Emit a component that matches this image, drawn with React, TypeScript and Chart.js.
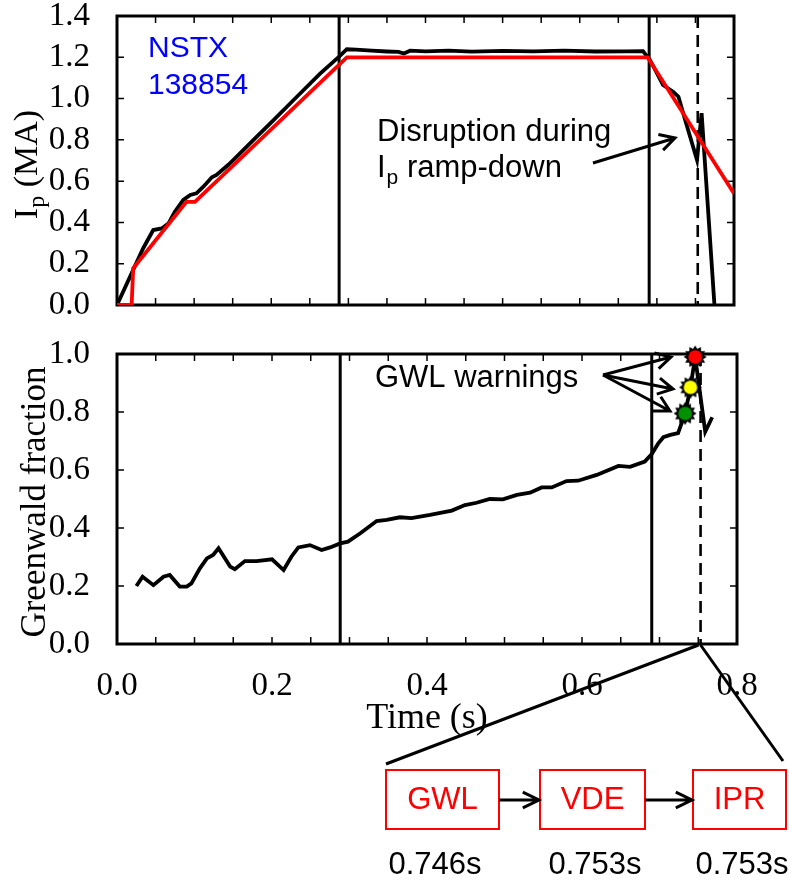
import React, { useEffect, useRef } from 'react';
import { Chart, registerables } from 'chart.js';

Chart.register(...registerables);

// ---------- data ----------
const IP_TIME = [0.0, 0.021, 0.034, 0.047, 0.058, 0.067, 0.075, 0.086, 0.095, 0.103, 0.112, 0.123, 0.129, 0.144, 0.151, 0.177, 0.203, 0.229, 0.263, 0.288, 0.298, 0.31, 0.33, 0.35, 0.365, 0.372, 0.38, 0.4, 0.43, 0.46, 0.5, 0.54, 0.58, 0.62, 0.66, 0.682, 0.691, 0.7, 0.708, 0.721, 0.728, 0.736, 0.752, 0.758, 0.775];
const IP_MEAS = [0.0, 0.17, 0.275, 0.363, 0.371, 0.396, 0.452, 0.509, 0.533, 0.541, 0.573, 0.619, 0.63, 0.678, 0.703, 0.8, 0.896, 0.993, 1.12, 1.203, 1.239, 1.237, 1.232, 1.228, 1.226, 1.218, 1.232, 1.229, 1.232, 1.227, 1.231, 1.229, 1.232, 1.228, 1.229, 1.23, 1.187, 1.123, 1.066, 1.033, 1.009, 0.905, 0.703, 0.929, -0.02];

const IP_REF_TIME = [0.0, 0.019, 0.021, 0.09, 0.101, 0.298, 0.688, 0.8];
const IP_REF = [0.0, 0.0, 0.178, 0.5, 0.5, 1.2, 1.2, 0.54];

const GW_TIME = [0.025, 0.033, 0.047, 0.06, 0.068, 0.081, 0.09, 0.096, 0.107, 0.116, 0.124, 0.131, 0.146, 0.152, 0.165, 0.18, 0.2, 0.215, 0.225, 0.234, 0.249, 0.264, 0.275, 0.288, 0.298, 0.314, 0.335, 0.348, 0.365, 0.38, 0.404, 0.432, 0.449, 0.464, 0.481, 0.498, 0.516, 0.533, 0.548, 0.561, 0.58, 0.595, 0.619, 0.647, 0.662, 0.681, 0.69, 0.698, 0.705, 0.714, 0.724, 0.733, 0.74, 0.746, 0.759, 0.768];
const GW_FRAC = [0.2, 0.232, 0.203, 0.232, 0.238, 0.198, 0.198, 0.209, 0.261, 0.295, 0.307, 0.33, 0.267, 0.258, 0.286, 0.286, 0.292, 0.255, 0.301, 0.333, 0.341, 0.324, 0.333, 0.347, 0.353, 0.382, 0.424, 0.428, 0.437, 0.434, 0.445, 0.46, 0.479, 0.487, 0.5, 0.499, 0.514, 0.522, 0.54, 0.54, 0.562, 0.563, 0.583, 0.614, 0.611, 0.629, 0.655, 0.69, 0.713, 0.721, 0.727, 0.795, 0.885, 0.99, 0.732, 0.782];

const WARN_TIME = [0.733, 0.74, 0.746];
const WARN_FRAC = [0.795, 0.885, 0.99];
const WARN_COLORS = ['#009000', '#ffff00', '#ff0000'];

const PHASE_LINES = [0.288, 0.69];
const DISRUPTION_TIME = 0.753;

const X_MIN = 0, X_MAX = 0.8, X_STEP = 0.05, X_LABEL_STEP = 0.2;
const IP_MAX = 1.4, GW_MAX = 1.0, Y_STEP = 0.2;

const SHOT_LABEL = ['NSTX', '138854'];
const ALARMS = ['GWL', 'VDE', 'IPR'];
const ALARM_TIMES = ['0.746s', '0.753s', '0.753s'];

// ---------- helpers ----------
const SERIF = 'Liberation Serif, "Times New Roman", serif';
const SANS = 'Liberation Sans, Arial, sans-serif';

function pts(xs: number[], ys: number[]) {
  return xs.map((x, i) => ({ x, y: ys[i] }));
}

function arrow(ctx: CanvasRenderingContext2D, x1: number, y1: number, x2: number, y2: number, head = 16, ang = 0.5) {
  const a = Math.atan2(y2 - y1, x2 - x1);
  ctx.beginPath();
  ctx.moveTo(x1, y1);
  ctx.lineTo(x2, y2);
  ctx.moveTo(x2 - head * Math.cos(a - ang), y2 - head * Math.sin(a - ang));
  ctx.lineTo(x2, y2);
  ctx.lineTo(x2 - head * Math.cos(a + ang), y2 - head * Math.sin(a + ang));
  ctx.stroke();
}

function makeBurst(color: string) {
  const c = document.createElement('canvas');
  const s = 26;
  c.width = s;
  c.height = s;
  const g = c.getContext('2d')!;
  const cx = s / 2;
  const n = 12;
  g.beginPath();
  for (let i = 0; i < 2 * n; i++) {
    const r = i % 2 === 0 ? 11.5 : 8.3;
    const ang = (i * Math.PI) / n - Math.PI / 2;
    g.lineTo(cx + r * Math.cos(ang), cx + r * Math.sin(ang));
  }
  g.closePath();
  g.fillStyle = '#000';
  g.fill();
  g.beginPath();
  g.arc(cx, cx, 6.8, 0, Math.PI * 2);
  g.fillStyle = color;
  g.fill();
  return c;
}

type Part = { t: string; size: number; dy: number };
function drawRotatedTitle(ctx: CanvasRenderingContext2D, parts: Part[], baseX: number, centerY: number) {
  ctx.save();
  let total = 0;
  const widths = parts.map((p) => {
    ctx.font = `${p.size}px ${SERIF}`;
    const w = ctx.measureText(p.t).width;
    total += w;
    return w;
  });
  ctx.translate(baseX, centerY);
  ctx.rotate(-Math.PI / 2);
  ctx.fillStyle = '#000';
  ctx.textBaseline = 'alphabetic';
  ctx.textAlign = 'left';
  let u = -total / 2;
  parts.forEach((p, i) => {
    ctx.font = `${p.size}px ${SERIF}`;
    ctx.fillText(p.t, u, p.dy);
    u += widths[i];
  });
  ctx.restore();
}

function frameTicksLines(chart: any) {
  const { ctx, chartArea: a, scales } = chart;
  const x = scales.x, y = scales.y;
  ctx.save();
  ctx.strokeStyle = '#000';
  ctx.lineWidth = 1.5;
  const L = 7;
  ctx.beginPath();
  x.ticks.forEach((t: any) => {
    const px = x.getPixelForValue(t.value);
    ctx.moveTo(px, a.top);
    ctx.lineTo(px, a.top + L);
    ctx.moveTo(px, a.bottom);
    ctx.lineTo(px, a.bottom - L);
  });
  y.ticks.forEach((t: any) => {
    const py = y.getPixelForValue(t.value);
    ctx.moveTo(a.left, py);
    ctx.lineTo(a.left + L, py);
    ctx.moveTo(a.right, py);
    ctx.lineTo(a.right - L, py);
  });
  ctx.stroke();
  // phase lines
  ctx.lineWidth = 3;
  ctx.beginPath();
  PHASE_LINES.forEach((t) => {
    const px = x.getPixelForValue(t);
    ctx.moveTo(px, a.top);
    ctx.lineTo(px, a.bottom);
  });
  ctx.stroke();
  // disruption dashed line
  ctx.setLineDash([12, 7]);
  ctx.lineWidth = 2.6;
  ctx.beginPath();
  const pd = x.getPixelForValue(DISRUPTION_TIME);
  ctx.moveTo(pd, a.top);
  ctx.lineTo(pd, a.bottom);
  ctx.stroke();
  ctx.setLineDash([]);
  // frame
  ctx.lineWidth = 3;
  ctx.strokeRect(a.left, a.top, a.right - a.left, a.bottom - a.top);
  ctx.restore();
}

const xTickLabel = (v: any) => {
  const r = Number(v) / X_LABEL_STEP;
  return Math.abs(r - Math.round(r)) < 1e-6 ? Number(v).toFixed(1) : '';
};

const topPlugin = {
  id: 'topDecor',
  beforeDatasetsDraw(chart: any) {
    frameTicksLines(chart);
  },
  afterDraw(chart: any) {
    const { ctx, chartArea: a } = chart;
    ctx.save();
    drawRotatedTitle(ctx, [
      { t: 'I', size: 34, dy: 0 },
      { t: 'p', size: 24, dy: 7 },
      { t: ' (MA)', size: 34, dy: 0 },
    ], 37, (a.top + a.bottom) / 2 + 4);
    // shot label
    ctx.fillStyle = '#0000ff';
    ctx.font = `30px ${SANS}`;
    ctx.textAlign = 'left';
    ctx.textBaseline = 'alphabetic';
    ctx.fillText(SHOT_LABEL[0], a.left + 31, 57);
    ctx.fillText(SHOT_LABEL[1], a.left + 31, 94);
    // disruption note
    ctx.fillStyle = '#000';
    ctx.font = `31px ${SANS}`;
    ctx.fillText('Disruption during', 377, 141);
    ctx.fillText('I', 377, 177);
    const w = ctx.measureText('I').width;
    ctx.font = `21px ${SANS}`;
    ctx.fillText('p', 377 + w + 1, 184);
    const wp = ctx.measureText('p').width;
    ctx.font = `31px ${SANS}`;
    ctx.fillText(' ramp-down', 377 + w + 1 + wp, 177);
    ctx.strokeStyle = '#000';
    ctx.lineWidth = 3;
    arrow(ctx, 593, 163, 675, 138, 17, 0.5);
    ctx.restore();
  },
};

const bottomPlugin = {
  id: 'bottomDecor',
  beforeDatasetsDraw(chart: any) {
    frameTicksLines(chart);
  },
  afterDraw(chart: any) {
    const { ctx, chartArea: a, scales } = chart;
    const OFF = 330;
    ctx.save();
    drawRotatedTitle(ctx, [{ t: 'Greenwald fraction', size: 35, dy: 0 }], 45, (a.top + a.bottom) / 2 + 3);
    ctx.translate(0, -OFF);
    ctx.strokeStyle = '#000';
    ctx.fillStyle = '#000';
    ctx.lineWidth = 3;
    // GWL warnings note
    ctx.font = `31px ${SANS}`;
    ctx.textAlign = 'left';
    ctx.textBaseline = 'alphabetic';
    ctx.fillText('GWL warnings', 375, 387);
    arrow(ctx, 603, 375, 671, 357, 17, 0.5);
    arrow(ctx, 603, 375, 673, 389, 17, 0.5);
    arrow(ctx, 603, 375, 670, 411, 17, 0.5);
    // zoom lines from disruption time to alarm boxes
    const xd = scales.x.getPixelForValue(DISRUPTION_TIME);
    const yb = a.bottom + OFF;
    ctx.beginPath();
    ctx.moveTo(xd - 2, yb + 1);
    ctx.lineTo(386, 764);
    ctx.moveTo(xd, yb + 1);
    ctx.lineTo(783, 761);
    ctx.stroke();
    // boxes
    const boxes = [
      [386, 770, 113, 59],
      [540, 770, 105, 59],
      [693, 770, 93, 59],
    ];
    ctx.lineWidth = 2;
    ctx.strokeStyle = '#ff0000';
    ctx.fillStyle = '#ff0000';
    ctx.font = `31px ${SANS}`;
    ctx.textAlign = 'center';
    ctx.textBaseline = 'middle';
    boxes.forEach((b, i) => {
      ctx.strokeRect(b[0], b[1], b[2], b[3]);
      ctx.fillText(ALARMS[i], b[0] + b[2] / 2, b[1] + b[3] / 2 + 1);
    });
    ctx.strokeStyle = '#000';
    ctx.lineWidth = 3;
    arrow(ctx, 499, 800, 539, 800, 18, 0.45);
    arrow(ctx, 645, 800, 692, 800, 18, 0.45);
    ctx.fillStyle = '#000';
    const centers = [435, 595, 742];
    centers.forEach((cx, i) => ctx.fillText(ALARM_TIMES[i], cx, 865));
    ctx.restore();
  },
};

export default function App() {
  const topRef = useRef<HTMLCanvasElement>(null);
  const botRef = useRef<HTMLCanvasElement>(null);

  useEffect(() => {
    const bursts = WARN_COLORS.map(makeBurst);
    const tickFont = { family: SERIF, size: 33 };

    const top = new Chart(topRef.current!, {
      type: 'line',
      data: {
        datasets: [
          { data: pts(IP_REF_TIME, IP_REF), borderColor: '#ff0000', borderWidth: 3.8, pointRadius: 0, tension: 0 },
          { data: pts(IP_TIME, IP_MEAS), borderColor: '#000000', borderWidth: 3.8, pointRadius: 0, tension: 0 },
        ],
      },
      options: {
        animation: false,
        responsive: false,
        events: [],
        layout: { padding: { left: 0, top: 16, right: 55, bottom: 25 } },
        plugins: { legend: { display: false }, tooltip: { enabled: false } },
        scales: {
          x: {
            type: 'linear', min: X_MIN, max: X_MAX,
            ticks: { display: false, stepSize: X_STEP, autoSkip: false },
            grid: { display: false }, border: { display: false },
            afterFit: (s: any) => { s.height = 0; s.paddingLeft = 0; s.paddingRight = 0; },
          },
          y: {
            type: 'linear', min: 0, max: IP_MAX,
            ticks: { stepSize: Y_STEP, autoSkip: false, padding: 19, color: '#000', font: tickFont, callback: (v: any) => Number(v).toFixed(1) },
            grid: { display: false }, border: { display: false },
            afterFit: (s: any) => { s.width = 117; s.paddingTop = 0; s.paddingBottom = 0; },
          },
        },
      } as any,
      plugins: [topPlugin],
    });

    const bottom = new Chart(botRef.current!, {
      type: 'line',
      data: {
        datasets: [
          {
            data: pts(WARN_TIME, WARN_FRAC), showLine: false, pointRadius: 11,
            pointStyle: (c: any) => bursts[c.dataIndex] as any, clip: false,
          } as any,
          { data: pts(GW_TIME, GW_FRAC), borderColor: '#000000', borderWidth: 3.8, pointRadius: 0, tension: 0 },
        ],
      },
      options: {
        animation: false,
        responsive: false,
        events: [],
        layout: { padding: { left: 0, top: 24, right: 52, bottom: 143 } },
        plugins: { legend: { display: false }, tooltip: { enabled: false } },
        scales: {
          x: {
            type: 'linear', min: X_MIN, max: X_MAX,
            ticks: { stepSize: X_STEP, autoSkip: false, maxRotation: 0, padding: 15, color: '#000', font: tickFont, callback: xTickLabel },
            grid: { display: false }, border: { display: false },
            title: { display: true, text: 'Time (s)', color: '#000', font: { family: SERIF, size: 36 }, padding: { top: 0, bottom: 4 } },
            afterFit: (s: any) => { s.height = 100; s.paddingLeft = 0; s.paddingRight = 0; },
          },
          y: {
            type: 'linear', min: 0, max: GW_MAX,
            ticks: { stepSize: Y_STEP, autoSkip: false, padding: 19, color: '#000', font: tickFont, callback: (v: any) => Number(v).toFixed(1) },
            grid: { display: false }, border: { display: false },
            afterFit: (s: any) => { s.width = 117; s.paddingTop = 0; s.paddingBottom = 0; },
          },
        },
      } as any,
      plugins: [bottomPlugin],
    });

    return () => {
      top.destroy();
      bottom.destroy();
    };
  }, []);

  return (
    <div style={{ position: 'absolute', left: 0, top: 0, width: 789, height: 887, background: '#fff' }}>
      <canvas ref={topRef} width={789} height={330} style={{ position: 'absolute', left: 0, top: 0, width: 789, height: 330 }} />
      <canvas ref={botRef} width={789} height={557} style={{ position: 'absolute', left: 0, top: 330, width: 789, height: 557 }} />
    </div>
  );
}
